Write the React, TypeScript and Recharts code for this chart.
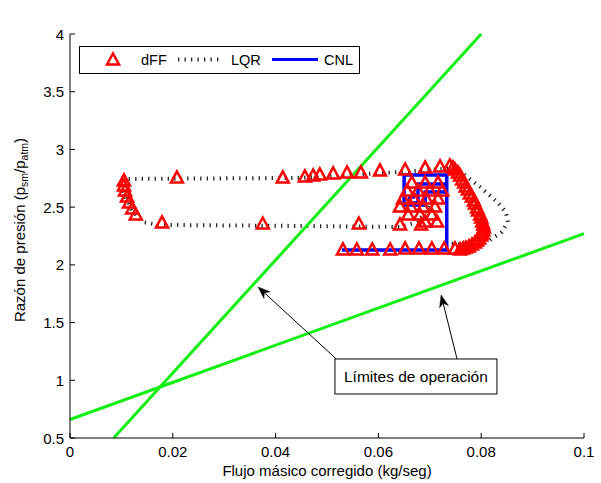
import React from 'react';
import { ComposedChart, XAxis, YAxis, Line, ReferenceLine, ReferenceDot } from 'recharts';

const FONT = 'Liberation Sans, Arial, Helvetica, sans-serif';

const xTicks = [0, 0.02, 0.04, 0.06, 0.08, 0.1];
const xTickLabels = ['0', '0.02', '0.04', '0.06', '0.08', '0.1'];
const yTicks = [0.5, 1, 1.5, 2, 2.5, 3, 3.5, 4];
const yTickLabels = ['0.5', '1', '1.5', '2', '2.5', '3', '3.5', '4'];

const dffX = [
  0.0531, 0.0558, 0.0588, 0.0623, 0.0652, 0.0679, 0.0704, 0.0728, 0.0749,
  0.0759, 0.0765, 0.0770, 0.0776, 0.0782, 0.0788, 0.0792, 0.0796, 0.0800, 0.0802, 0.0804, 0.0805, 0.0804, 0.0802, 0.0800, 0.0798,
  0.0794, 0.0792, 0.0788, 0.0786, 0.0782, 0.0778, 0.0774, 0.0770, 0.0767, 0.0763, 0.0759, 0.0755, 0.0749, 0.0745, 0.0739,
  0.0720, 0.0691, 0.0652, 0.0603, 0.0566, 0.0539, 0.0512, 0.0486, 0.0473, 0.0457, 0.0414, 0.0208,
  0.0105, 0.0105, 0.0107, 0.0111, 0.0115, 0.0121, 0.0128,
  0.0179, 0.0375, 0.0562, 0.0642, 0.0683,
  0.0691, 0.0714, 0.0658, 0.0681, 0.0704, 0.0642, 0.0663, 0.0687, 0.0710, 0.0648, 0.0669, 0.0693, 0.0716,
  0.0656, 0.0677, 0.0700, 0.0724, 0.0665, 0.0691, 0.0716,
];
const dffY = [
  2.129, 2.129, 2.129, 2.129, 2.138, 2.138, 2.138, 2.138, 2.138,
  2.129, 2.138, 2.146, 2.155, 2.172, 2.190, 2.207, 2.224, 2.250, 2.268, 2.294, 2.320, 2.346, 2.372, 2.406, 2.432,
  2.467, 2.493, 2.528, 2.554, 2.588, 2.614, 2.649, 2.675, 2.710, 2.736, 2.770, 2.796, 2.822, 2.840, 2.857,
  2.848, 2.840, 2.822, 2.814, 2.796, 2.796, 2.788, 2.779, 2.770, 2.762, 2.753, 2.753,
  2.727, 2.684, 2.640, 2.588, 2.536, 2.484, 2.432,
  2.363, 2.354, 2.354, 2.346, 2.346,
  2.372, 2.372, 2.432, 2.432, 2.432, 2.502, 2.502, 2.502, 2.502, 2.571, 2.571, 2.571, 2.571,
  2.640, 2.640, 2.640, 2.640, 2.710, 2.710, 2.710,
];

const lqrX = [
  0.0730, 0.0778, 0.0817, 0.0840, 0.0852, 0.0848, 0.0831, 0.0798, 0.0768, 0.0749, 0.0700, 0.0642, 0.0447,
  0.0105, 0.0099, 0.0107, 0.0121, 0.0140, 0.0175, 0.0447, 0.0642, 0.0677, 0.0693, 0.0706, 0.0720,
];
const lqrY = [
  2.190, 2.172, 2.216, 2.285, 2.372, 2.458, 2.545, 2.675, 2.779, 2.840, 2.822, 2.805, 2.753,
  2.744, 2.701, 2.597, 2.476, 2.372, 2.346, 2.337, 2.328, 2.372, 2.467, 2.562, 2.649,
];

const cnlX = [0.0529, 0.0733, 0.0733, 0.0650, 0.0650, 0.0691, 0.0691, 0.0730, 0.0730, 0.0677, 0.0677, 0.0661, 0.0661, 0.0671];
const cnlY = [2.129, 2.129, 2.779, 2.779, 2.519, 2.519, 2.632, 2.632, 2.700, 2.700, 2.536, 2.536, 2.588, 2.588];

const limitSteepX = [0.0085, 0.08];
const limitSteepY = [0.5, 4.0];
const limitFlatX = [0, 0.1];
const limitFlatY = [0.66, 2.27];

const annotationText = 'Límites de operación';
const annotationBox = { x: 0.0673, y: 1.033 };
const arrow1 = [{ x: 0.0518, y: 1.185 }, { x: 0.0366, y: 1.808 }];
const arrow2 = [{ x: 0.0753, y: 1.185 }, { x: 0.0722, y: 1.739 }];

const zip = (xs: number[], ys: number[]) => xs.map((x, i) => ({ x, y: ys[i] }));
const dffData = zip(dffX, dffY);
const lqrData = zip(lqrX, lqrY);
const cnlData = zip(cnlX, cnlY);
const steepData = zip(limitSteepX, limitSteepY);
const flatData = zip(limitFlatX, limitFlatY);

const triPoints = (cx: number, cy: number) =>
  `${cx},${cy - 6.5} ${cx - 6},${cy + 4.5} ${cx + 6},${cy + 4.5}`;

const Tri = (p: any) => {
  const { cx, cy } = p;
  if (cx == null || cy == null) return null;
  return <polygon key={`t${p.index}`} points={triPoints(cx, cy)} fill="none" stroke="#ff0000" strokeWidth={2.5} />;
};

const BottomTick = (p: any) => {
  const { x, y, index } = p;
  return (
    <g>
      <line x1={x} y1={y} x2={x} y2={y - 5} stroke="#000" />
      <text x={x} y={y + 19} textAnchor="middle" fontSize={15} fontFamily={FONT} fill="#000">
        {xTickLabels[index]}
      </text>
    </g>
  );
};
const TopTick = (p: any) => {
  const { x, y } = p;
  return <line x1={x} y1={y} x2={x} y2={y + 5} stroke="#000" />;
};
const LeftTick = (p: any) => {
  const { x, y, index } = p;
  return (
    <g>
      <line x1={x} y1={y} x2={x + 5} y2={y} stroke="#000" />
      <text x={x - 6} y={y + 5.5} textAnchor="end" fontSize={15} fontFamily={FONT} fill="#000">
        {yTickLabels[index]}
      </text>
    </g>
  );
};
const RightTick = (p: any) => {
  const { x, y } = p;
  return <line x1={x} y1={y} x2={x - 5} y2={y} stroke="#000" />;
};

const Arrow = (p: any) => {
  const { x1, y1, x2, y2 } = p;
  const dx = x2 - x1;
  const dy = y2 - y1;
  const len = Math.sqrt(dx * dx + dy * dy) || 1;
  const ux = dx / len;
  const uy = dy / len;
  const L = 12;
  const W = 4.5;
  const bx = x2 - ux * L;
  const by = y2 - uy * L;
  const nx = x2 - ux * (L * 0.7);
  const ny = y2 - uy * (L * 0.7);
  const pts = `${x2},${y2} ${bx - uy * W},${by + ux * W} ${nx},${ny} ${bx + uy * W},${by - ux * W}`;
  return (
    <g>
      <line x1={x1} y1={y1} x2={nx} y2={ny} stroke="#000" strokeWidth={1} />
      <polygon points={pts} fill="#000" stroke="#000" strokeWidth={0.5} />
    </g>
  );
};

const AnnotationBox = (p: any) => {
  const { cx, cy } = p;
  if (cx == null) return null;
  const w = 162;
  const h = 35;
  return (
    <g>
      <rect x={cx - w / 2} y={cy - h / 2} width={w} height={h} fill="#fff" stroke="#000" strokeWidth={1} />
      <text x={cx} y={cy + 5.5} textAnchor="middle" fontSize={15.5} fontFamily={FONT} fill="#000">
        {annotationText}
      </text>
    </g>
  );
};

const XLabel = (p: any) => {
  const vb = p.viewBox || {};
  return (
    <text x={vb.x + vb.width / 2} y={vb.y + 38} textAnchor="middle" fontSize={15} fontFamily={FONT} fill="#000">
      Flujo másico corregido (kg/seg)
    </text>
  );
};
const TitleLabel = (p: any) => {
  const vb = p.viewBox || {};
  return (
    <text x={vb.x + vb.width / 2} y={vb.y - 12} textAnchor="middle" fontSize={14} fontFamily={FONT} fill="#000">
      Mapa del compresor
    </text>
  );
};
const YLabel = (p: any) => {
  const vb = p.viewBox || {};
  const cx = 25;
  const cy = vb.y + vb.height / 2 - 6;
  return (
    <text
      x={cx}
      y={cy}
      transform={`rotate(-90 ${cx} ${cy})`}
      textAnchor="middle"
      fontSize={15}
      fontFamily={FONT}
      fill="#000"
    >
      <tspan>Razón de presión (p</tspan>
      <tspan fontSize={10.5} dy={3}>sm</tspan>
      <tspan dy={-3}>/p</tspan>
      <tspan fontSize={10.5} dy={3}>atm</tspan>
      <tspan dy={-3}>)</tspan>
    </text>
  );
};

const LegendBox = () => (
  <svg width={282} height={29} style={{ position: 'absolute', left: 79, top: 46 }}>
    <rect x={0.5} y={0.5} width={280} height={27} fill="#fff" stroke="#000" strokeWidth={1} />
    <polygon points={triPoints(34, 14)} fill="none" stroke="#ff0000" strokeWidth={2.5} />
    <text x={62} y={19} fontSize={14.5} fontFamily={FONT} fill="#000">dFF</text>
    <line x1={99} y1={13.5} x2={144} y2={13.5} stroke="#222" strokeWidth={4} strokeDasharray="1.3 5.2" />
    <text x={152} y={19} fontSize={14.5} fontFamily={FONT} fill="#000">LQR</text>
    <line x1={193} y1={13.5} x2={239} y2={13.5} stroke="#0000ff" strokeWidth={3} />
    <text x={245} y={19} fontSize={14.5} fontFamily={FONT} fill="#000">CNL</text>
  </svg>
);

export default function App() {
  return (
    <div style={{ position: 'absolute', left: 0, top: 0, width: 601, height: 483, background: '#fff' }}>
      <ComposedChart width={601} height={483} margin={{ top: 34, right: 17, bottom: 0, left: 0 }}>
        <XAxis
          xAxisId={0}
          dataKey="x"
          type="number"
          domain={[0, 0.1]}
          ticks={xTicks}
          interval={0}
          height={45}
          tickSize={0}
          tickMargin={0}
          tickLine={false}
          tick={<BottomTick />}
          axisLine={{ stroke: '#000' }}
          label={<XLabel />}
        />
        <XAxis
          xAxisId="top"
          orientation="top"
          type="number"
          domain={[0, 0.1]}
          ticks={xTicks}
          interval={0}
          height={0}
          tickSize={0}
          tickMargin={0}
          tickLine={false}
          tick={<TopTick />}
          axisLine={{ stroke: '#000' }}
          label={<TitleLabel />}
        />
        <YAxis
          yAxisId={0}
          type="number"
          domain={[0.5, 4]}
          ticks={yTicks}
          interval={0}
          width={70}
          tickSize={0}
          tickMargin={0}
          tickLine={false}
          tick={<LeftTick />}
          axisLine={{ stroke: '#000' }}
          label={<YLabel />}
        />
        <YAxis
          yAxisId="right"
          orientation="right"
          type="number"
          domain={[0.5, 4]}
          ticks={yTicks}
          interval={0}
          width={0}
          tickSize={0}
          tickMargin={0}
          tickLine={false}
          tick={<RightTick />}
          axisLine={{ stroke: '#000' }}
        />
        <Line
          data={dffData}
          dataKey="y"
          type="linear"
          stroke="none"
          strokeWidth={0}
          dot={Tri}
          activeDot={false}
          isAnimationActive={false}
        />
        <Line
          data={lqrData}
          dataKey="y"
          type="linear"
          stroke="#222"
          strokeWidth={4}
          strokeDasharray="1.3 5.2"
          dot={false}
          activeDot={false}
          isAnimationActive={false}
        />
        <Line
          data={cnlData}
          dataKey="y"
          type="linear"
          stroke="#0000ff"
          strokeWidth={3.5}
          dot={false}
          activeDot={false}
          isAnimationActive={false}
        />
        <Line data={steepData} dataKey="y" type="linear" stroke="#11ee11" strokeWidth={3} dot={false} activeDot={false} isAnimationActive={false} />
        <Line data={flatData} dataKey="y" type="linear" stroke="#11ee11" strokeWidth={3} dot={false} activeDot={false} isAnimationActive={false} />
        <ReferenceLine segment={arrow1} shape={<Arrow />} ifOverflow="visible" />
        <ReferenceLine segment={arrow2} shape={<Arrow />} ifOverflow="visible" />
        <ReferenceDot x={annotationBox.x} y={annotationBox.y} r={1} shape={<AnnotationBox />} ifOverflow="visible" />
      </ComposedChart>
      <LegendBox />
    </div>
  );
}
